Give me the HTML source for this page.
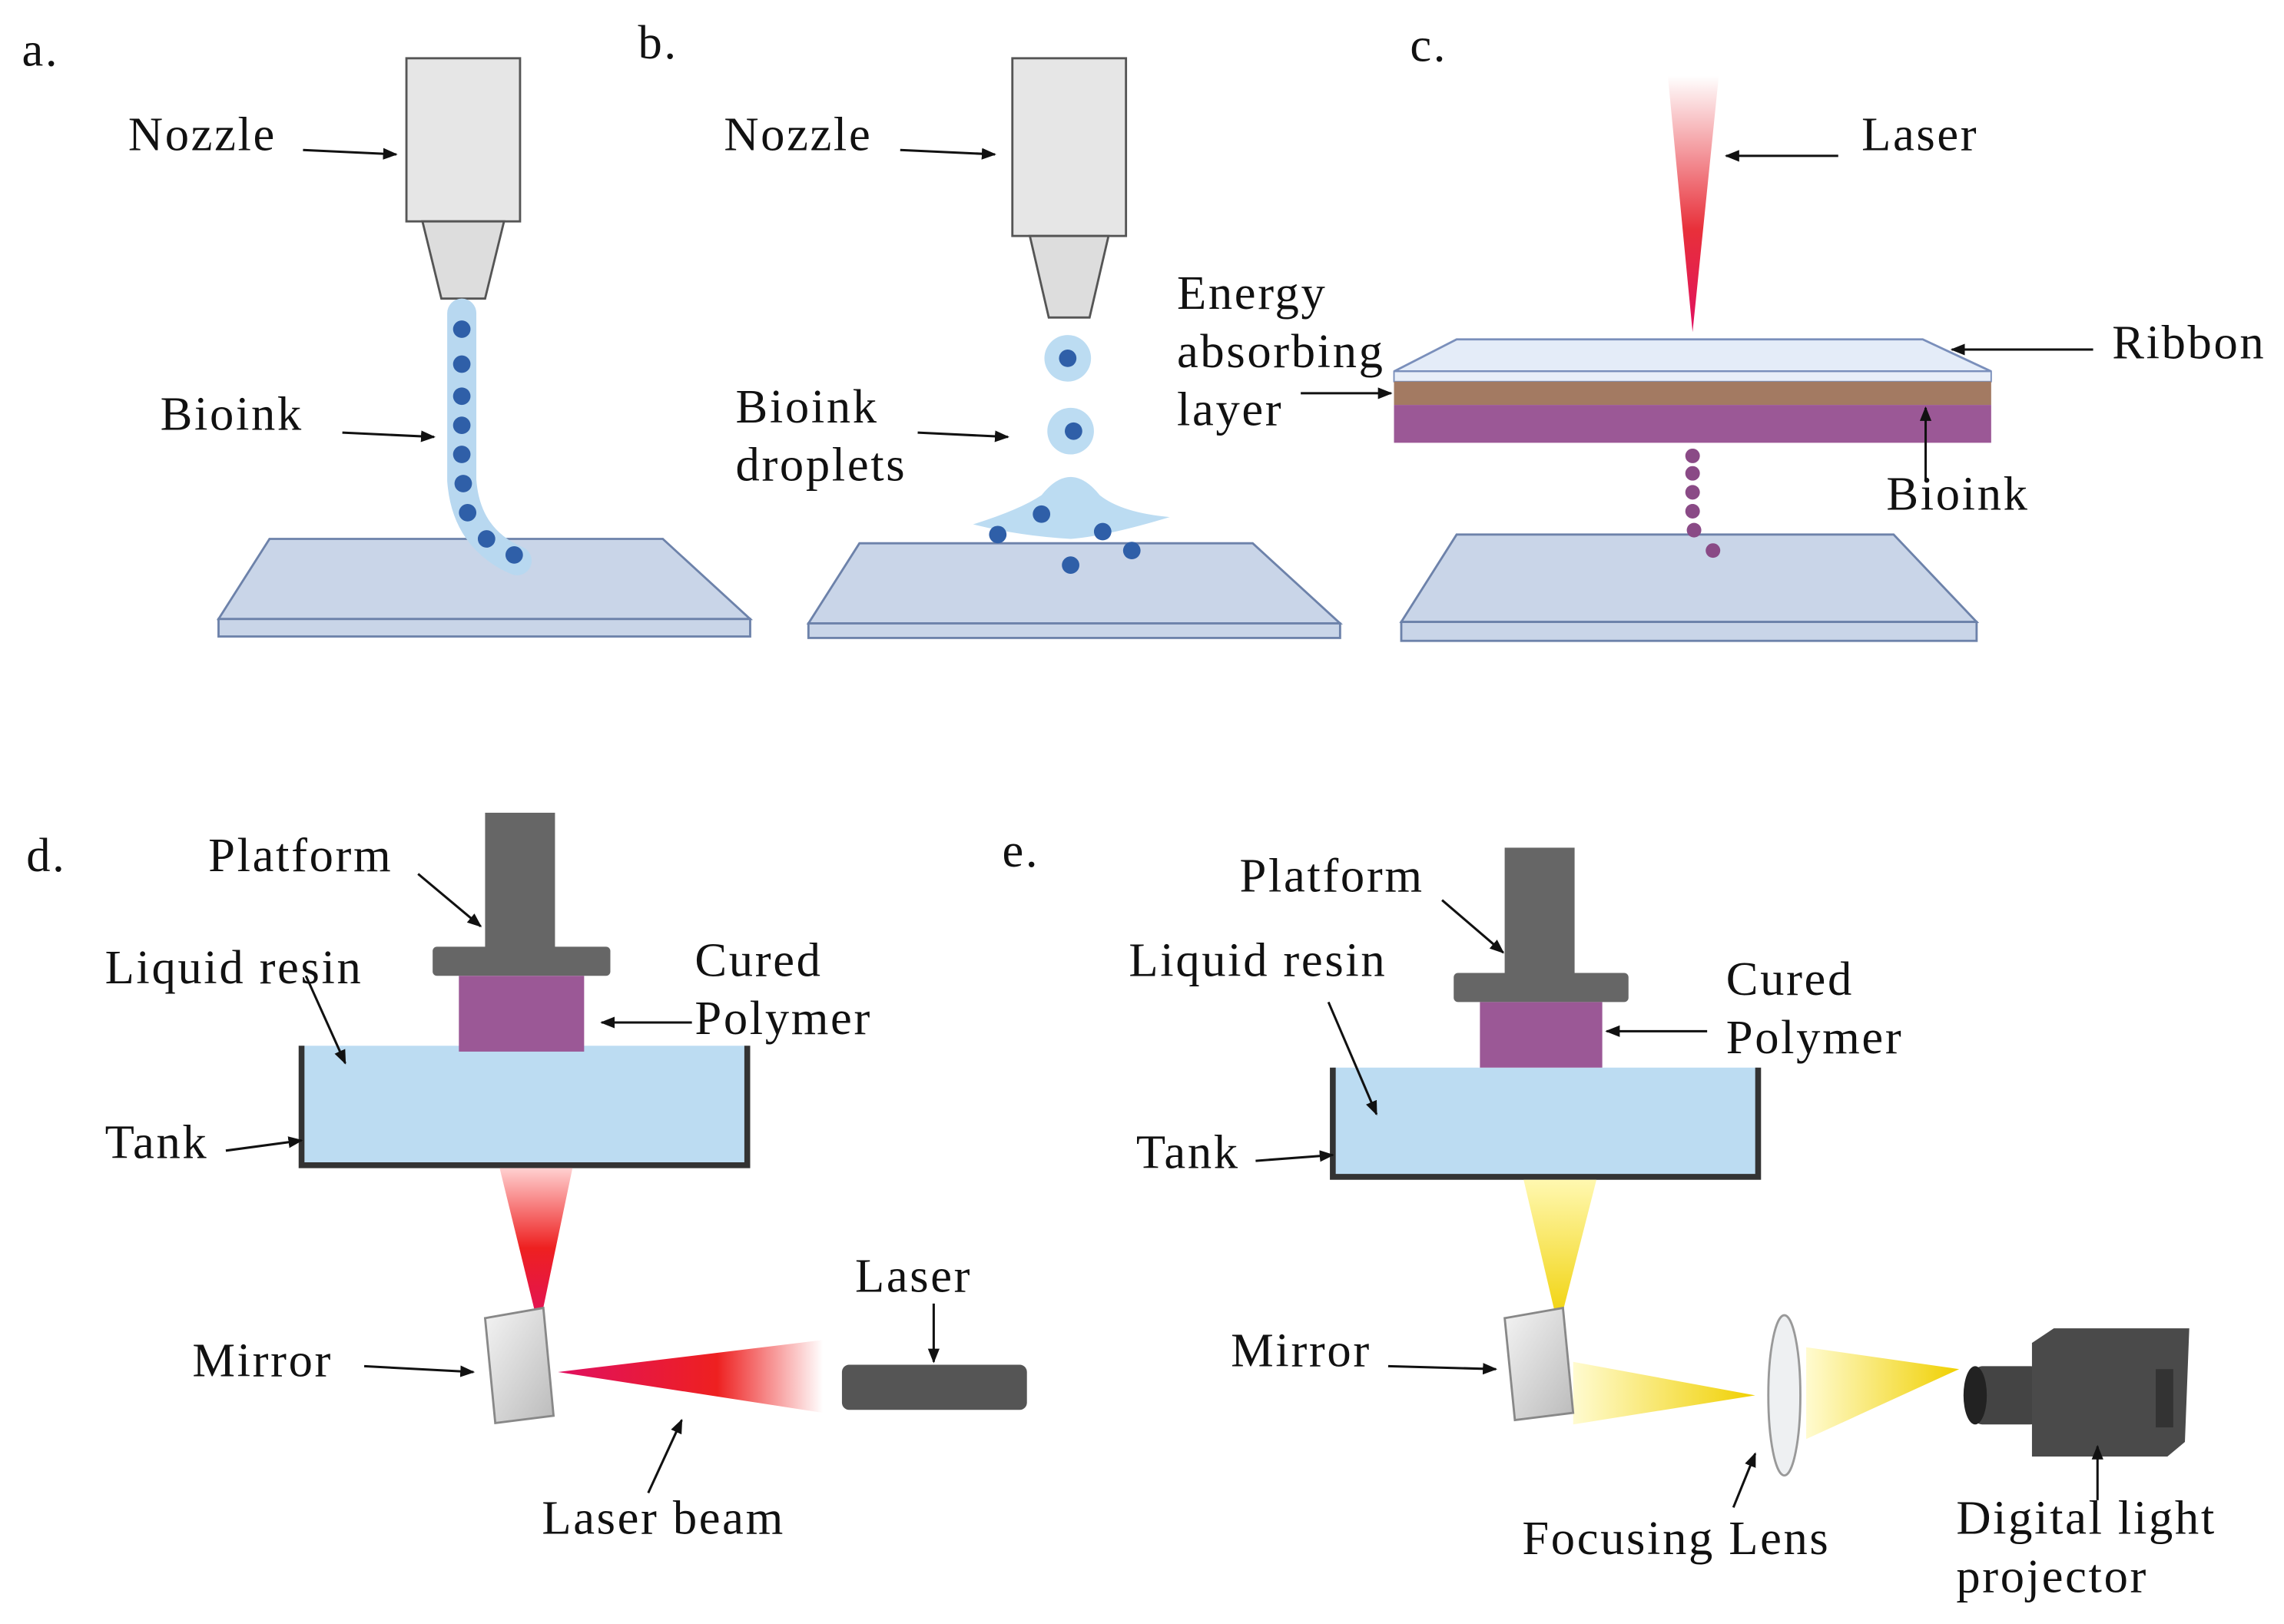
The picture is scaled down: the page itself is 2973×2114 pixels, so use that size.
<!DOCTYPE html>
<html><head><meta charset="utf-8"><style>
html,body{margin:0;padding:0;background:#fff;}
svg{display:block}
text{font-family:"Liberation Serif",serif;font-size:33px;letter-spacing:1.4px;fill:#111}
</style></head><body>
<svg width="2973" height="2114" viewBox="0 0 1568 1115" xmlns="http://www.w3.org/2000/svg">
<defs>
<marker id="ar" markerWidth="10" markerHeight="10" refX="9" refY="5" orient="auto" markerUnits="userSpaceOnUse"><path d="M0,1 L10,5 L0,9 z" fill="#111"/></marker>
<linearGradient id="lz" x1="0" y1="0" x2="0" y2="1"><stop offset="0" stop-color="#fff"/><stop offset="0.6" stop-color="#e8303a"/><stop offset="1" stop-color="#e01060"/></linearGradient>
<linearGradient id="rd" x1="0" y1="0" x2="0" y2="1"><stop offset="0" stop-color="#ffd0d0"/><stop offset="0.5" stop-color="#ee2020"/><stop offset="1" stop-color="#e01060"/></linearGradient>
<linearGradient id="rh" x1="0" y1="0" x2="1" y2="0"><stop offset="0" stop-color="#e01060"/><stop offset="0.6" stop-color="#ee2020"/><stop offset="1" stop-color="#fff"/></linearGradient>
<linearGradient id="yv" x1="0" y1="0" x2="0" y2="1"><stop offset="0" stop-color="#fff8b0"/><stop offset="1" stop-color="#f0d000"/></linearGradient>
<linearGradient id="yh" x1="0" y1="0" x2="1" y2="0"><stop offset="0" stop-color="#fffbd0"/><stop offset="1" stop-color="#f0d000"/></linearGradient>
<linearGradient id="mir" x1="0" y1="0" x2="1" y2="1"><stop offset="0" stop-color="#f4f4f4"/><stop offset="1" stop-color="#bbb"/></linearGradient>
</defs>
<!-- plates -->
<g fill="#c9d5e8" stroke="#6d82aa" stroke-width="1.5">
<path d="M185,370 L455,370 L515,425 L150,425 Z"/><rect x="150" y="425" width="365" height="12"/>
<path d="M590,373 L860,373 L920,428 L555,428 Z"/><rect x="555" y="428" width="365" height="10"/>
<path d="M1000,367 L1300,367 L1357,427 L962,427 Z"/><rect x="962" y="427" width="395" height="13"/>
</g>
<!-- a -->
<rect x="279" y="40" width="78" height="112" fill="#e6e6e6" stroke="#555" stroke-width="1.5"/>
<path d="M290,152 L346,152 L333,205 L303,205 Z" fill="#ddd" stroke="#555" stroke-width="1.5"/>
<path d="M317,215 L317,330 Q320,370 355,385" stroke="#b8d8f0" stroke-width="20" fill="none" stroke-linecap="round"/>
<g fill="#2f5fa8"><circle cx="317" cy="226" r="6"/><circle cx="317" cy="250" r="6"/><circle cx="317" cy="272" r="6"/><circle cx="317" cy="292" r="6"/><circle cx="317" cy="312" r="6"/><circle cx="318" cy="332" r="6"/><circle cx="321" cy="352" r="6"/><circle cx="334" cy="370" r="6"/><circle cx="353" cy="381" r="6"/></g>
<!-- b -->
<rect x="695" y="40" width="78" height="122" fill="#e6e6e6" stroke="#555" stroke-width="1.5"/>
<path d="M707,162 L761,162 L748,218 L720,218 Z" fill="#ddd" stroke="#555" stroke-width="1.5"/>
<circle cx="733" cy="246" r="16" fill="#bcdcf2"/><circle cx="733" cy="246" r="6" fill="#2f5fa8"/>
<circle cx="735" cy="296" r="16" fill="#bcdcf2"/><circle cx="737" cy="296" r="6" fill="#2f5fa8"/>
<path d="M668,360 Q700,350 715,340 Q735,315 755,340 Q770,352 803,355 Q760,368 735,370 Q700,368 668,360 Z" fill="#bcdcf2"/>
<g fill="#2f5fa8"><circle cx="685" cy="367" r="6"/><circle cx="715" cy="353" r="6"/><circle cx="757" cy="365" r="6"/><circle cx="735" cy="388" r="6"/><circle cx="777" cy="378" r="6"/></g>
<!-- c -->
<path d="M1145,52 L1180,52 L1162,228 Z" fill="url(#lz)"/>
<path d="M1000,233 L1320,233 L1367,255 L957,255 Z" fill="#e4ecf8" stroke="#7a8fbb" stroke-width="1.5"/>
<rect x="957" y="255" width="410" height="7" fill="#e8eef8" stroke="#7a8fbb" stroke-width="1"/>
<rect x="957" y="262" width="410" height="16" fill="#a37a62"/>
<rect x="957" y="278" width="410" height="26" fill="#9b5896"/>
<g fill="#8a4a86"><circle cx="1162" cy="313" r="5"/><circle cx="1162" cy="325" r="5"/><circle cx="1162" cy="338" r="5"/><circle cx="1162" cy="351" r="5"/><circle cx="1163" cy="364" r="5"/><circle cx="1176" cy="378" r="5"/></g>
<!-- d -->
<rect x="207" y="718" width="306" height="82" fill="#bcdcf2"/>
<path d="M207,718 L207,800 L513,800 L513,718" stroke="#333" stroke-width="4" fill="none"/>
<rect x="333" y="558" width="48" height="94" fill="#666"/>
<rect x="297" y="650" width="122" height="20" rx="3" fill="#666"/>
<rect x="315" y="670" width="86" height="52" fill="#9b5896"/>
<path d="M343,802 L393,802 L370,912 Z" fill="url(#rd)"/>
<path d="M383,942 L565,920 L565,970 Z" fill="url(#rh)"/>
<path d="M333,905 L373,898 L380,972 L340,977 Z" fill="url(#mir)" stroke="#888" stroke-width="1.5"/>
<rect x="578" y="937" width="127" height="31" rx="5" fill="#555"/>
<!-- e -->
<rect x="915" y="733" width="292" height="75" fill="#bcdcf2"/>
<path d="M915,733 L915,808 L1207,808 L1207,733" stroke="#333" stroke-width="4" fill="none"/>
<rect x="1033" y="582" width="48" height="88" fill="#666"/>
<rect x="998" y="668" width="120" height="20" rx="3" fill="#666"/>
<rect x="1016" y="688" width="84" height="45" fill="#9b5896"/>
<path d="M1046,810 L1096,810 L1070,912 Z" fill="url(#yv)"/>
<path d="M1080,935 L1205,958 L1080,978 Z" fill="url(#yh)"/>
<path d="M1240,925 L1345,940 L1240,988 Z" fill="url(#yh)"/>
<path d="M1033,905 L1073,898 L1080,970 L1040,975 Z" fill="url(#mir)" stroke="#888" stroke-width="1.5"/>
<ellipse cx="1225" cy="958" rx="11" ry="55" fill="#eef0f2" stroke="#999" stroke-width="1.5"/>
<rect x="1355" y="938" width="45" height="40" rx="6" fill="#444"/>
<ellipse cx="1356" cy="958" rx="8" ry="20" fill="#222"/>
<path d="M1395,922 L1410,912 L1503,912 L1500,990 L1488,1000 L1395,1000 Z" fill="#4a4a4a"/>
<rect x="1480" y="940" width="12" height="40" fill="#333"/>
<!-- arrows -->
<g stroke="#111" stroke-width="1.6" fill="none" marker-end="url(#ar)">
<path d="M208,103 L272,106"/><path d="M235,297 L298,300"/>
<path d="M618,103 L683,106"/><path d="M630,297 L692,300"/>
<path d="M1262,107 L1185,107"/><path d="M1437,240 L1340,240"/><path d="M893,270 L955,270"/><path d="M1322,330 L1322,280"/>
<path d="M287,600 L330,636"/><path d="M210,670 L237,730"/><path d="M475,702 L413,702"/><path d="M155,790 L207,783"/><path d="M250,938 L325,942"/><path d="M641,895 L641,935"/><path d="M445,1025 L468,975"/>
<path d="M990,618 L1032,654"/><path d="M912,688 L945,765"/><path d="M1172,708 L1103,708"/><path d="M862,797 L915,793"/><path d="M953,938 L1027,940"/><path d="M1190,1035 L1205,998"/><path d="M1440,1030 L1440,993"/>
</g>
<!-- labels -->
<text x="15" y="45">a.</text><text x="438" y="40">b.</text><text x="968" y="42">c.</text>
<text x="18" y="598">d.</text><text x="688" y="595">e.</text>
<text x="88" y="103">Nozzle</text><text x="110" y="295">Bioink</text>
<text x="497" y="103">Nozzle</text><text x="505" y="290">Bioink</text><text x="505" y="330">droplets</text>
<text x="1278" y="103">Laser</text><text x="1450" y="246">Ribbon</text>
<text x="808" y="212">Energy</text><text x="808" y="252">absorbing</text><text x="808" y="292">layer</text>
<text x="1295" y="350">Bioink</text>
<text x="143" y="598">Platform</text><text x="72" y="675">Liquid resin</text><text x="477" y="670">Cured</text><text x="477" y="710">Polymer</text>
<text x="72" y="795">Tank</text><text x="132" y="945">Mirror</text><text x="587" y="887">Laser</text><text x="372" y="1053">Laser beam</text>
<text x="851" y="612">Platform</text><text x="775" y="670">Liquid resin</text><text x="1185" y="683">Cured</text><text x="1185" y="723">Polymer</text>
<text x="780" y="802">Tank</text><text x="845" y="938">Mirror</text><text x="1045" y="1067">Focusing Lens</text>
<text x="1343" y="1053">Digital light</text><text x="1343" y="1093">projector</text>
</svg>
</body></html>
